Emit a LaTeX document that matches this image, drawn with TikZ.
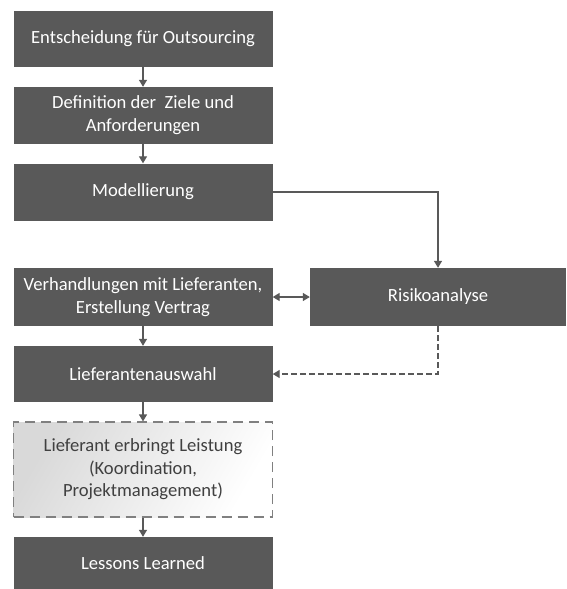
\documentclass[tikz,border=0pt]{standalone}
\usepackage{fontspec}
\setmainfont{Carlito}
\usetikzlibrary{arrows.meta}
\definecolor{boxgray}{HTML}{595959}
\definecolor{linegray}{HTML}{595959}
\definecolor{dashgray}{HTML}{808080}
\begin{document}
\begin{tikzpicture}[x=1pt,y=-1pt,
  box/.style={rectangle, fill=boxgray, draw=none, text=white, align=center,
    inner sep=0pt, minimum width=259pt, font=\fontsize{18.6}{23}\selectfont},
  dbox/.style={rectangle, draw=dashgray, line width=1.2pt, dash pattern=on 10pt off 6pt,
    left color=gray!30, right color=white, shading angle=60,
    text=black!75, align=center, inner sep=0pt, minimum width=259pt,
    font=\fontsize{18.6}{22.5}\selectfont},
  conn/.style={draw=linegray, line width=1.3pt, -{Triangle[length=7pt,width=8pt]}},
  dconn/.style={conn, dash pattern=on 5.5pt off 3.5pt}]
\useasboundingbox (0,0) rectangle (566,589);
\node[box, minimum height=56pt] (e) at (143,39) {Entscheidung für Outsourcing};
\node[box, minimum height=57pt] (d) at (143,115.5) {Definition der\ \ Ziele und\\Anforderungen};
\node[box, minimum height=57pt] (m) at (143,192) {Modellierung};
\node[box, minimum height=58pt] (v) at (143,297) {Verhandlungen mit Lieferanten,\\Erstellung Vertrag};
\node[box, minimum height=58pt, minimum width=256pt] (r) at (438,297) {Risikoanalyse};
\node[box, minimum height=56pt] (l) at (143,374) {Lieferantenauswahl};
\node[dbox, minimum height=95pt] (p) at (143,469.5) {Lieferant erbringt Leistung\\(Koordination,\\Projektmanagement)};
\node[box, minimum height=52pt] (ll) at (143,563) {Lessons Learned};
\draw[conn] (e) -- (d);
\draw[conn] (d) -- (m);
\draw[conn] (m.east) -| (r.north);
\draw[conn, {Triangle[length=7pt,width=8pt]}-{Triangle[length=7pt,width=8pt]}] (v) -- (r);
\draw[conn] (v) -- (l);
\draw[dconn] (r.south) |- (l.east);
\draw[conn] (l) -- (p);
\draw[conn] (p) -- (ll);
\end{tikzpicture}
\end{document}
